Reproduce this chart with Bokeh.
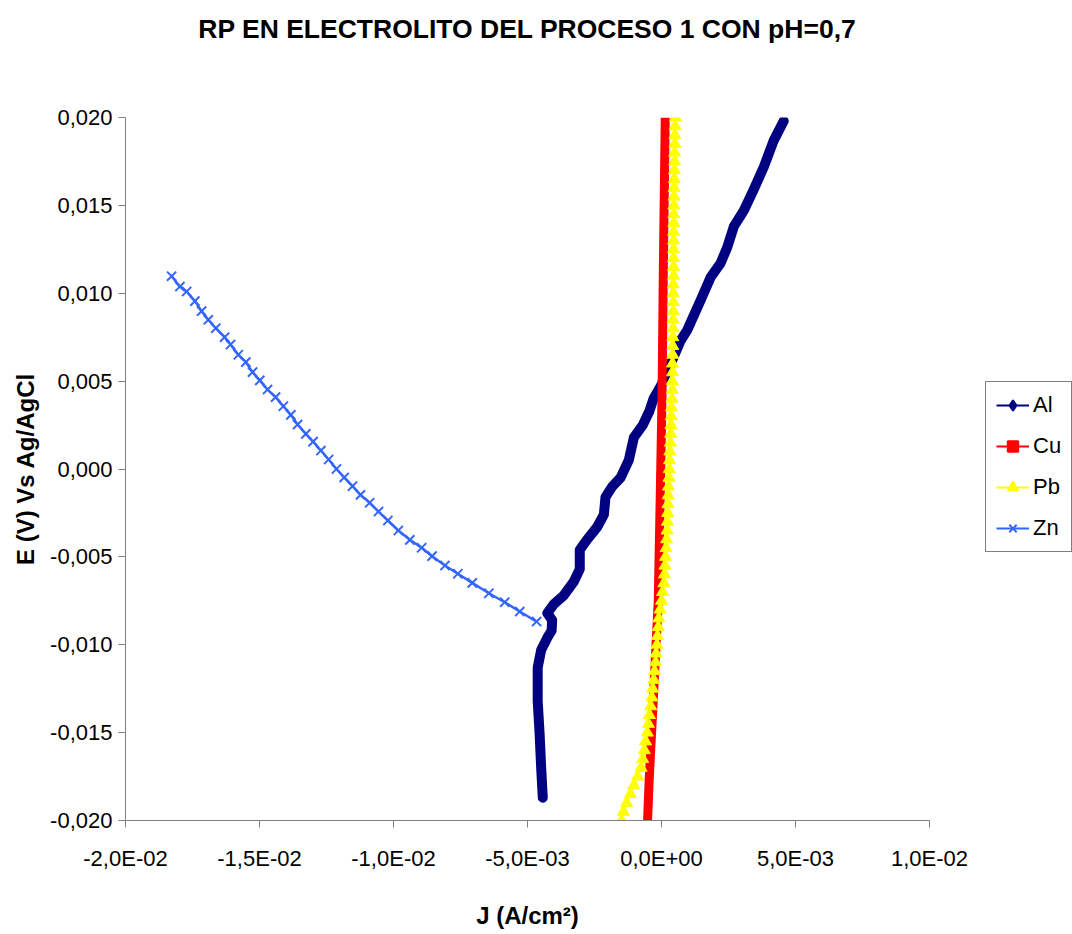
from bokeh.plotting import figure
from bokeh.layouts import row
from bokeh.models import Range1d, FixedTicker, Legend, LegendItem, Title
from bokeh.embed import file_html
from bokeh.resources import INLINE

# ---------------- data ----------------
title_text = "RP EN ELECTROLITO DEL PROCESO 1 CON pH=0,7"
x_label = "J (A/cm\u00b2)"
y_label = "E (V) Vs Ag/AgCl"

x_ticks = [-0.02, -0.015, -0.01, -0.005, 0.0, 0.005, 0.01]
x_tick_labels = ["-2,0E-02", "-1,5E-02", "-1,0E-02", "-5,0E-03", "0,0E+00", "5,0E-03", "1,0E-02"]
y_ticks = [-0.02, -0.015, -0.01, -0.005, 0.0, 0.005, 0.01, 0.015, 0.02]
y_tick_labels = ["-0,020", "-0,015", "-0,010", "-0,005", "0,000", "0,005", "0,010", "0,015", "0,020"]

al_j = [-0.00443, -0.00449, -0.00455, -0.00462, -0.00462, -0.00449, -0.00426, -0.00410, -0.00408, -0.00426,
        -0.00402, -0.00365, -0.00327, -0.00305, -0.00305, -0.00277, -0.00240, -0.00215, -0.00209, -0.00184,
        -0.00153, -0.00122, -0.00103, -0.00070, -0.00045, -0.00030, 0.00000, 0.00035, 0.00071, 0.00096,
        0.00146, 0.00183, 0.00220, 0.00245, 0.00270, 0.00307, 0.00344, 0.00382, 0.00419, 0.00456]
al_e = [-0.0187, -0.0170, -0.0150, -0.0132, -0.0113, -0.0103, -0.0096, -0.0092, -0.0086, -0.0082,
        -0.0077, -0.0072, -0.0064, -0.0057, -0.0046, -0.0040, -0.0033, -0.0026, -0.0016, -0.0010,
        -0.0005, 0.0005, 0.0018, 0.0025, 0.0033, 0.0040, 0.0048, 0.0060, 0.0073, 0.0079,
        0.0096, 0.0109, 0.0117, 0.0126, 0.0138, 0.0147, 0.0159, 0.0172, 0.0187, 0.0198]

cu_j = [-0.00052, -0.00046, -0.00031, -0.00012, -0.00005, 0.00002, 0.00007, 0.00014]
cu_e = [-0.0200, -0.0177, -0.0132, -0.0075, -0.0018, 0.0041, 0.0115, 0.0200]

pb_e = [-0.0200, -0.0195, -0.0190, -0.0185, -0.0180, -0.0175, -0.0170, -0.0165, -0.0160, -0.0155,
        -0.0150, -0.0145, -0.0140, -0.0135, -0.0130, -0.0125, -0.0120, -0.0115, -0.0110, -0.0105,
        -0.0100, -0.0095, -0.0090, -0.0085, -0.0080, -0.0075, -0.0070, -0.0065, -0.0060, -0.0055,
        -0.0050, -0.0045, -0.0040, -0.0035, -0.0030, -0.0025, -0.0020, -0.0015, -0.0010, -0.0005,
        0.0000, 0.0005, 0.0010, 0.0015, 0.0020, 0.0025, 0.0030, 0.0035, 0.0040, 0.0045,
        0.0050, 0.0055, 0.0060, 0.0065, 0.0070, 0.0075, 0.0080, 0.0085, 0.0090, 0.0095,
        0.0100, 0.0105, 0.0110, 0.0115, 0.0120, 0.0125, 0.0130, 0.0135, 0.0140, 0.0145,
        0.0150, 0.0155, 0.0160, 0.0165, 0.0170, 0.0175, 0.0180, 0.0185, 0.0190, 0.0195, 0.0200]
pb_j = [-0.00149, -0.00142, -0.00130, -0.00116, -0.00103, -0.00089, -0.00076, -0.00070, -0.00064, -0.00059,
        -0.00053, -0.00049, -0.00045, -0.00040, -0.00036, -0.00033, -0.00029, -0.00026, -0.00022, -0.00020,
        -0.00017, -0.00015, -0.00012, -0.00010, -0.00005, 0.00000, 0.00004, 0.00009, 0.00011, 0.00013,
        0.00015, 0.00017, 0.00019, 0.00021, 0.00022, 0.00023, 0.00024, 0.00025, 0.00026, 0.00028,
        0.00029, 0.00030, 0.00031, 0.00033, 0.00034, 0.00035, 0.00036, 0.00037, 0.00039, 0.00040,
        0.00040, 0.00041, 0.00041, 0.00042, 0.00042, 0.00042, 0.00043, 0.00043, 0.00044, 0.00044,
        0.00044, 0.00044, 0.00045, 0.00045, 0.00045, 0.00045, 0.00045, 0.00045, 0.00046, 0.00046,
        0.00046, 0.00047, 0.00047, 0.00048, 0.00048, 0.00049, 0.00049, 0.00050, 0.00050, 0.00051, 0.00052]

zn_j = [-0.01828, -0.01797, -0.01772, -0.01741, -0.01716, -0.01691, -0.01663, -0.01630, -0.01608, -0.01579,
        -0.01551, -0.01526, -0.01499, -0.01470, -0.01440, -0.01411, -0.01383, -0.01358, -0.01327, -0.01300,
        -0.01271, -0.01242, -0.01213, -0.01184, -0.01153, -0.01123, -0.01089, -0.01056, -0.01021, -0.00982,
        -0.00939, -0.00895, -0.00856, -0.00808, -0.00760, -0.00706, -0.00644, -0.00585, -0.00529, -0.00466]
zn_e = [0.01097, 0.01038, 0.01010, 0.00955, 0.00898, 0.00849, 0.00801, 0.00750, 0.00708, 0.00650,
        0.00608, 0.00551, 0.00504, 0.00452, 0.00409, 0.00357, 0.00308, 0.00253, 0.00200, 0.00156,
        0.00105, 0.00054, 0.00000, -0.00048, -0.00098, -0.00147, -0.00192, -0.00242, -0.00293, -0.00350,
        -0.00403, -0.00448, -0.00496, -0.00549, -0.00596, -0.00648, -0.00707, -0.00758, -0.00811, -0.00868]

series_names = ["Al", "Cu", "Pb", "Zn"]
series_colors = ["#000080", "#FF0000", "#FFFF00", "#3366FF"]

# ---------------- main figure ----------------
FONT = "Liberation Sans"

p = figure(width=975, height=934, output_backend="svg", toolbar_location=None,
           x_range=Range1d(-0.02, 0.01), y_range=Range1d(-0.02, 0.02),
           min_border_left=125, min_border_right=46, min_border_top=117, min_border_bottom=114)
p.outline_line_color = None
p.xgrid.visible = False
p.ygrid.visible = False
p.background_fill_color = "white"
p.border_fill_color = "white"

# spacer panel between frame and title, so the title sits near the top edge
spacer = Title(text=" ", text_font_size="10px", standoff=61)
p.add_layout(spacer, "above")

p.title.text = title_text
p.title.align = "center"
p.title.offset = 6
p.title.text_font = FONT
p.title.text_font_size = "26.5px"
p.title.text_font_style = "bold"
p.title.text_color = "black"
p.title.standoff = 0

for ax, ticks, labels in ((p.xaxis[0], x_ticks, x_tick_labels), (p.yaxis[0], y_ticks, y_tick_labels)):
    ax.ticker = FixedTicker(ticks=ticks, minor_ticks=[])
    ax.major_label_overrides = {t: l for t, l in zip(ticks, labels)}
    ax.axis_line_color = "#808080"
    ax.major_tick_line_color = "#808080"
    ax.major_tick_in = 0
    ax.major_tick_out = 7
    ax.minor_tick_line_color = None
    ax.major_label_text_font = FONT
    ax.major_label_text_font_size = "22px"
    ax.major_label_text_color = "black"
    ax.axis_label_text_font = FONT
    ax.axis_label_text_font_size = "24px"
    ax.axis_label_text_font_style = "bold"
    ax.axis_label_text_color = "black"

p.xaxis.axis_label = x_label
p.yaxis.axis_label = y_label
p.xaxis.major_label_standoff = 18
p.xaxis.axis_label_standoff = 28
p.yaxis.major_label_standoff = 6
p.yaxis.axis_label_standoff = 8

c_al, c_cu, c_pb, c_zn = series_colors

p.line(zn_j, zn_e, line_color=c_zn, line_width=2.5)
p.scatter(zn_j, zn_e, marker="x", size=13, line_color=c_zn, line_width=2)

p.line(al_j, al_e, line_color=c_al, line_width=10, line_join="round", line_cap="round")

p.line(cu_j, cu_e, line_color=c_cu, line_width=9)

p.line(pb_j, pb_e, line_color=c_pb, line_width=2)
p.scatter(pb_j, pb_e, marker="triangle", size=12, fill_color=c_pb, line_color=c_pb)

# ---------------- legend panel ----------------
lg = figure(width=97, height=934, output_backend="svg", toolbar_location=None,
            x_range=Range1d(0, 1), y_range=Range1d(0, 1),
            min_border_left=0, min_border_right=0, min_border_top=0, min_border_bottom=0)
lg.axis.visible = False
lg.xgrid.visible = False
lg.ygrid.visible = False
lg.outline_line_color = None
lg.background_fill_color = "white"
lg.border_fill_color = "white"

markers = ["diamond", "square", "triangle", "x"]
sizes = [16, 12, 15, 12]
items = []
for name, col, mk, sz in zip(series_names, series_colors, markers, sizes):
    # proxy glyphs placed outside the visible range: only their legend swatches show
    r1 = lg.line([5, 6], [5, 6], line_color=col, line_width=2)
    r2 = lg.scatter([5], [5], marker=mk, size=sz, fill_color=col, line_color=col, line_width=2)
    items.append(LegendItem(label=name, renderers=[r1, r2]))

legend = Legend(items=items, location=(10, 268))
legend.border_line_color = "black"
legend.border_line_width = 1
legend.background_fill_color = "white"
legend.label_text_font = FONT
legend.label_text_font_size = "22px"
legend.label_text_color = "black"
legend.glyph_width = 33
legend.glyph_height = 26
legend.label_height = 20
legend.spacing = 15
legend.padding = 10
legend.margin = 0
legend.label_standoff = 4
lg.add_layout(legend, "center")

layout = row(p, lg, spacing=0)
open("out.html", "w").write(file_html(layout, INLINE))
